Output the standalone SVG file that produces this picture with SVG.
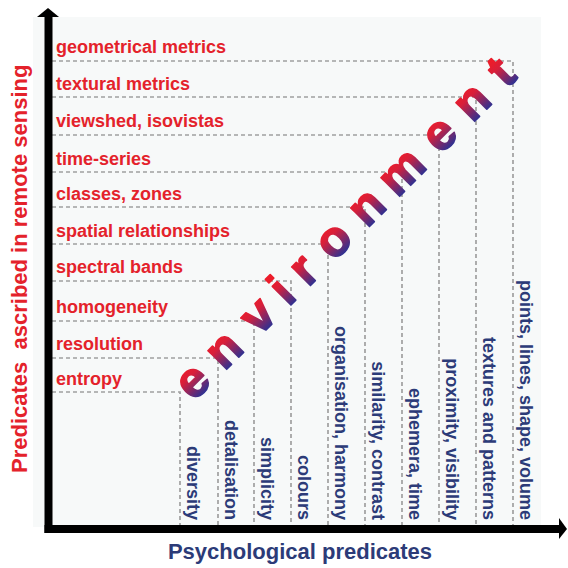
<svg xmlns="http://www.w3.org/2000/svg" width="568" height="568" viewBox="0 0 568 568">
  <style>
    .rs { font-family: "Liberation Sans", Arial, sans-serif; font-weight: bold; font-size: 18px; fill: #e4222b; }
    .ps { font-family: "Liberation Sans", Arial, sans-serif; font-weight: bold; font-size: 18px; fill: #2c3b78; text-anchor: end; }
    .dash { fill: none; stroke: #a0a0a0; stroke-width: 1.7; stroke-dasharray: 4 3; }
    .title { font-family: "Liberation Sans", Arial, sans-serif; font-weight: bold; font-size: 22px; }
  </style>
  <defs>
    <linearGradient id="envGrad" gradientUnits="userSpaceOnUse" x1="0" y1="-30" x2="0" y2="1">
      <stop offset="0" stop-color="#ec1c2a"/>
      <stop offset="0.3" stop-color="#d81f3a"/>
      <stop offset="1" stop-color="#2e3192"/>
    </linearGradient>
  </defs>
  <rect x="0" y="0" width="568" height="568" fill="#ffffff"/>
  <rect x="33" y="17" width="508" height="510" fill="#f7f9f9"/>

  <g id="connectors">
    <path class="dash" d="M52 392 H180 V525"/>
    <path class="dash" d="M52 358 H218 V525"/>
    <path class="dash" d="M52 321 H254 V525"/>
    <path class="dash" d="M52 281 H291 V525"/>
    <path class="dash" d="M52 244 H328 V525"/>
    <path class="dash" d="M52 207 H365 V525"/>
    <path class="dash" d="M52 172 H402 V525"/>
    <path class="dash" d="M52 135 H439 V525"/>
    <path class="dash" d="M52 97 H476 V525"/>
    <path class="dash" d="M52 61 H513 V525"/>
  </g>

  <g id="remote-sensing-predicates">
    <text class="rs" x="56" y="53">geometrical metrics</text>
    <text class="rs" x="56" y="90">textural metrics</text>
    <text class="rs" x="56" y="127">viewshed, isovistas</text>
    <text class="rs" x="56" y="165">time-series</text>
    <text class="rs" x="56" y="200">classes, zones</text>
    <text class="rs" x="56" y="237">spatial relationships</text>
    <text class="rs" x="56" y="273">spectral bands</text>
    <text class="rs" x="56" y="313">homogeneity</text>
    <text class="rs" x="56" y="350">resolution</text>
    <text class="rs" x="56" y="385">entropy</text>
  </g>

  <g id="psychological-predicates">
    <text class="ps" transform="translate(187 520) rotate(90)">diversity</text>
    <text class="ps" transform="translate(225 520) rotate(90)">detalisation</text>
    <text class="ps" transform="translate(261 520) rotate(90)">simplicity</text>
    <text class="ps" transform="translate(298 520) rotate(90)">colours</text>
    <text class="ps" transform="translate(335 520) rotate(90)">organisation, harmony</text>
    <text class="ps" transform="translate(372 520) rotate(90)">similarity, contrast</text>
    <text class="ps" transform="translate(409 520) rotate(90)">ephemera, time</text>
    <text class="ps" transform="translate(446 520) rotate(90)">proximity, visibility</text>
    <text class="ps" transform="translate(483 520) rotate(90)">textures and patterns</text>
    <text class="ps" transform="translate(520 520) rotate(90)">points, lines, shape, volume</text>
  </g>

  <g id="environment" transform="translate(298 298) rotate(-45)">
    <text x="-133.7 -89.1 -41 -6.4 24 65.8 113 162.6 215.7 261.6 303.4" y="0" text-anchor="middle" font-family="Liberation Sans, Arial, sans-serif" font-weight="bold" font-size="50" fill="url(#envGrad)" stroke="url(#envGrad)" stroke-width="1.6" stroke-linejoin="round">environment</text>
  </g>

  <g id="axes">
    <line x1="48.5" y1="16" x2="48.5" y2="533" stroke="#000" stroke-width="8"/>
    <polygon points="37,17 48,8 59,17" fill="#000"/>
    <line x1="44.5" y1="529" x2="560" y2="529" stroke="#000" stroke-width="8"/>
    <polygon points="559,518 567,529 559,539" fill="#000"/>
  </g>

  <g id="axis-titles">
    <text class="title" fill="#e4222b" xml:space="preserve" style="white-space:pre" transform="translate(27 473) rotate(-90)">Predicates  ascribed in remote sensing</text>
    <text class="title" fill="#2c3b78" x="300" y="559" text-anchor="middle">Psychological predicates</text>
  </g>
</svg>
